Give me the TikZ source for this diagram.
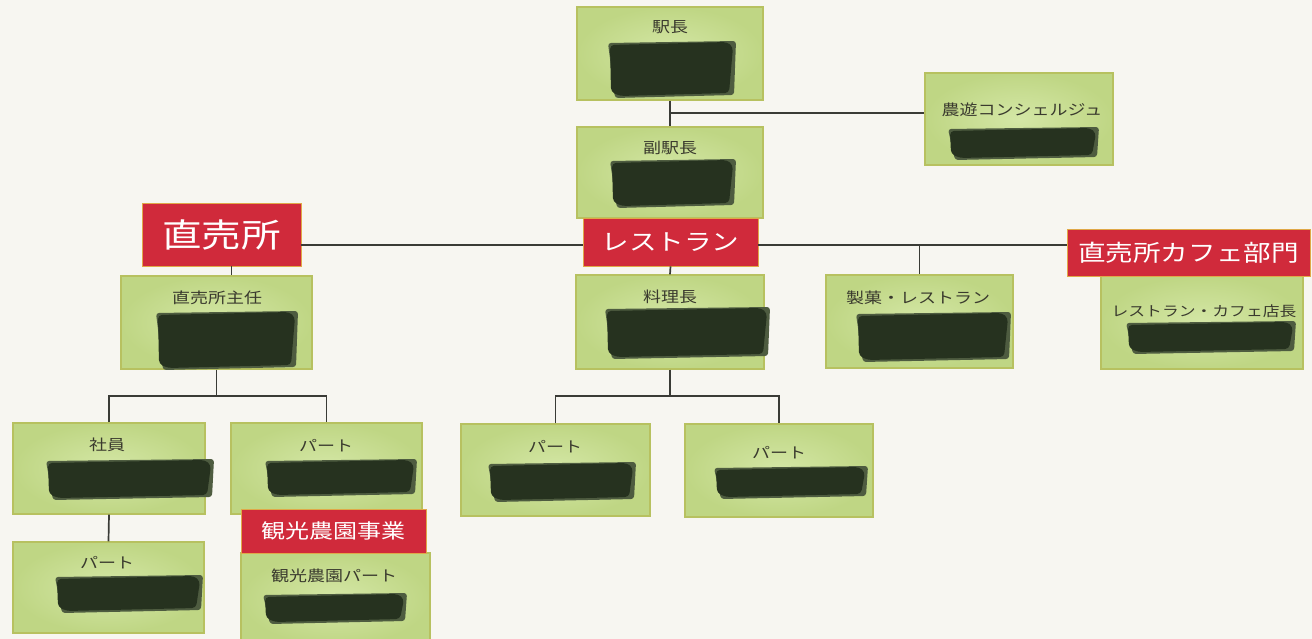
\documentclass[tikz,border=0pt]{standalone}
\usepackage{fontspec}
\setmainfont{Noto Sans CJK JP}
\newfontfamily\jpw[FakeStretch=1.2]{Noto Sans CJK JP}
\definecolor{bg}{HTML}{F7F6F1}
\definecolor{gfill}{HTML}{BFD684}
\definecolor{ginner}{HTML}{D4E7A6}
\definecolor{gline}{HTML}{B7C160}
\definecolor{rfill}{HTML}{D02A3B}
\definecolor{rline}{HTML}{E0A848}
\definecolor{blobd}{HTML}{26321F}
\definecolor{blobl}{HTML}{4E5C40}
\definecolor{conn}{HTML}{3A3B36}
\definecolor{txt}{HTML}{3A3A2E}
\newcommand\myblob[4]{%
  \fill[blobl,rounded corners=3pt] ({#1-2},{#2+1}) -- ({#3+3},{#2-1}) -- ({#3+1},{#4-1}) -- ({#1+5},{#4+2}) -- cycle;
  \fill[blobd,rounded corners=4pt] (#1,{#2+3}) -- ({#3-6},#2) -- (#3,{#2+5}) -- ({#3-4},{#4-3}) -- ({#1+10},#4) -- ({#1+1},{#4-4}) -- cycle;}
\tikzset{
  gbox/.style={draw=gline, line width=1.2pt, inner color=ginner, outer color=gfill, inner sep=0pt},
  rbox/.style={draw=rline, line width=0.8pt, fill=rfill, inner sep=0pt, text=white, font=\jpw},
  glabel/.style={text=txt, inner sep=0pt, font=\jpw\fontsize{15}{15}\selectfont},
  conline/.style={draw=conn, line width=1.7pt}
}
\begin{document}
\begin{tikzpicture}[x=1pt,y=-1pt]
\useasboundingbox (0,0) rectangle (1312,639);
\fill[bg] (0,0) rectangle (1312,639);
% boxes
\node[gbox, minimum width=186pt, minimum height=93pt] (ekicho) at (670,53.5) {};
\node[gbox, minimum width=186pt, minimum height=91pt] (fukueki) at (670,172.5) {};
\node[gbox, minimum width=188pt, minimum height=92pt] (noyu) at (1019,119) {};
\node[gbox, minimum width=202pt, minimum height=93pt] (tencho) at (1202,322.5) {};
\node[gbox, minimum width=187pt, minimum height=93pt] (seika) at (919.5,321.5) {};
\node[gbox, minimum width=188pt, minimum height=94pt] (ryori) at (670,322) {};
\node[gbox, minimum width=191pt, minimum height=93pt] (shunin) at (216.5,322.5) {};
\node[gbox, minimum width=192pt, minimum height=91pt] (shain) at (109,468.5) {};
\node[gbox, minimum width=191pt, minimum height=91pt] (partA) at (326.5,468.5) {};
\node[gbox, minimum width=191pt, minimum height=91pt] (partB) at (108.5,587.5) {};
\node[gbox, minimum width=189pt, minimum height=92pt] (kankopart) at (335.5,599) {};
\node[gbox, minimum width=189pt, minimum height=92pt] (partC) at (555.5,470) {};
\node[gbox, minimum width=188pt, minimum height=93pt] (partD) at (779,470.5) {};
% red labels
\node[rbox, minimum width=175pt, minimum height=48pt, font=\jpw\fontsize{23}{23}\selectfont] (rest) at (670.5,242) {レストラン};
\node[rbox, minimum width=159pt, minimum height=63pt, font=\jpw\fontsize{33}{33}\selectfont] (chokubai) at (221.5,234.5) {直売所};
\node[rbox, minimum width=243pt, minimum height=47pt, font=\jpw\fontsize{23}{23}\selectfont] (cafe) at (1188.5,252.5) {直売所カフェ部門};
\node[rbox, minimum width=185pt, minimum height=44pt, font=\jpw\fontsize{20}{20}\selectfont] (kanko) at (333.5,531) {観光農園事業};
% connectors
\coordinate (j1) at (670,113);
\coordinate (bar) at (0,245);
\coordinate (t1) at (0,396);
\draw[conline] (ekicho.south) -- (fukueki.north);
\draw[conline] (j1) -- (j1 -| noyu.west);
\draw[conline] (chokubai.east |- bar) -- (rest.west |- bar);
\draw[conline] (rest.east |- bar) -- (cafe.west |- bar);
\draw[conline] (seika.north |- bar) -- (seika.north);
\draw[conline] (rest.south) -- (ryori.north);
\draw[conline] ([xshift=10pt]chokubai.south) -- ([xshift=10pt]chokubai.south |- shunin.north);
\draw[conline] (shunin.south) -- (shunin.south |- t1);
\draw[conline] (shain.north) |- (partA.north |- t1) -- (partA.north);
\draw[conline] (shain.south) -- (partB.north);
\draw[conline] (ryori.south) -- (ryori.south |- t1);
\draw[conline] (partC.north) |- (partD.north |- t1) -- (partD.north);
% labels
\node[glabel] (ekichoT) at (670,27) {駅長};
\node[glabel] (fukuekiT) at (670,148) {副駅長};
\node[glabel] (noyuT) at (1022,110) {農遊コンシェルジュ};
\node[glabel] (shuninT) at (217,298) {直売所主任};
\node[glabel] (ryoriT) at (670,297) {料理長};
\node[glabel] (seikaT) at (918,298) {製菓・レストラン};
\node[glabel, font=\jpw\fontsize{14}{14}\selectfont] (tenchoT) at (1204,311) {レストラン・カフェ店長};
\node[glabel] (shainT) at (107,445) {社員};
\node[glabel] (partAT) at (326,446) {パート};
\node[glabel] (partBT) at (107,563) {パート};
\node[glabel] (kankopartT) at (334,576) {観光農園パート};
\node[glabel] (partCT) at (555,447) {パート};
\node[glabel] (partDT) at (779,453) {パート};
% redactions
\myblob{610}{42}{733}{96}
\myblob{612}{160}{733}{206}
\myblob{950}{128}{1096}{158}
\myblob{158}{312}{295}{368}
\myblob{607}{308}{767}{357}
\myblob{858}{313}{1008}{360}
\myblob{1128}{322}{1293}{352}
\myblob{48}{460}{211}{498}
\myblob{267}{460}{414}{495}
\myblob{57}{576}{200}{611}
\myblob{265}{594}{404}{622}
\myblob{490}{463}{633}{500}
\myblob{716}{467}{865}{497}
\end{tikzpicture}
\end{document}
